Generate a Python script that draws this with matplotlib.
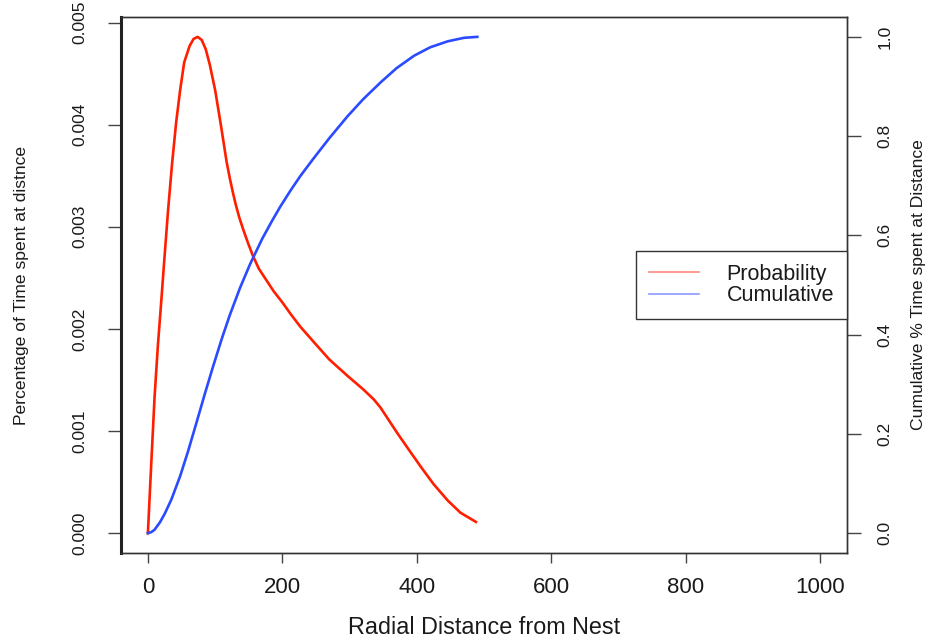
import matplotlib
matplotlib.use("Agg")
import matplotlib.pyplot as plt

plt.rcParams['font.family'] = ['Liberation Sans', 'DejaVu Sans']

# radial distance (m) and share of time spent there
dist_prob = [0, 5, 10, 15, 20, 24, 30, 36, 42, 48, 54, 62, 68, 74, 80, 86,
             92, 100, 108, 113, 117, 122, 127, 131, 136, 142, 149, 156, 165,
             175, 187, 200, 213, 227, 247, 270, 297, 320, 336, 346, 355, 371,
             390, 406, 425, 446, 465, 488]
prob = [0.0, 0.00068, 0.00134, 0.00185, 0.00228, 0.00264, 0.00316, 0.00362,
        0.00402, 0.00434, 0.00461, 0.00477, 0.00484, 0.00486, 0.00483,
        0.00474, 0.00459, 0.00434, 0.00402, 0.00381, 0.00364, 0.00347,
        0.00332, 0.00321, 0.00309, 0.00297, 0.00284, 0.00272, 0.00259,
        0.00249, 0.00237, 0.00226, 0.00214, 0.00202, 0.00187, 0.00170,
        0.00154, 0.00141, 0.00131, 0.00123, 0.00114, 0.00098, 0.00080,
        0.00065, 0.00048, 0.00032, 0.00020, 0.00011]

# cumulative share of time
dist_cum = [0, 5, 10, 18, 25, 35, 48, 60, 73, 85, 97, 110, 122, 137, 152,
            170, 185, 197, 212, 227, 247, 270, 297, 320, 346, 370, 396, 420,
            446, 470, 490]
cum = [0.0, 0.002, 0.007, 0.022, 0.039, 0.068, 0.115, 0.166, 0.226, 0.282,
       0.336, 0.392, 0.440, 0.494, 0.542, 0.593, 0.630, 0.658, 0.690, 0.720,
       0.756, 0.796, 0.840, 0.874, 0.908, 0.937, 0.962, 0.979, 0.991, 0.998,
       1.0]

left_ticks = [0.000, 0.001, 0.002, 0.003, 0.004, 0.005]
right_ticks = [0.0, 0.2, 0.4, 0.6, 0.8, 1.0]
x_ticks = [0, 200, 400, 600, 800, 1000]

txt = '#1a1a1a'
red = '#ff1e00'
blue = '#2a4bff'

fig = plt.figure(figsize=(9.32, 6.4), dpi=100)
ax = fig.add_axes([121 / 932, 1 - 553 / 640, 726 / 932, 536 / 640])
ax2 = ax.twinx()

ax.plot(dist_prob, prob, color=red, lw=1.9, solid_joinstyle='round')
ax2.plot(dist_cum, cum, color=blue, lw=1.9, solid_joinstyle='round')

# R style 4% padding around the data range
pmax = max(prob)
ax.set_ylim(-0.04 * pmax, 1.04 * pmax)
ax2.set_ylim(-0.04, 1.04)
ax.set_xlim(-40, 1040)

ax.set_xticks(x_ticks)
ax.set_xticklabels([str(v) for v in x_ticks])
ax.set_yticks(left_ticks)
ax.set_yticklabels(['%.3f' % v for v in left_ticks], rotation=90, va='center')
ax2.set_yticks(right_ticks)
ax2.set_yticklabels(['%.1f' % v for v in right_ticks], rotation=90, va='center')

ax.tick_params(axis='x', length=7.2, width=1, pad=10, labelsize=16,
               colors='#444444', labelcolor=txt)
ax.tick_params(axis='y', length=9.4, width=1, pad=15, labelsize=12.5,
               colors='#444444', labelcolor=txt)
ax2.tick_params(axis='y', length=10, width=1, pad=12, labelsize=12.5,
                colors='#444444', labelcolor=txt)

for a in (ax, ax2):
    for s in a.spines.values():
        s.set_color('#333333')
        s.set_linewidth(1.0)
ax2.spines['left'].set_linewidth(2.2)
ax2.spines['left'].set_color('#222222')

ax.set_xlabel('Radial Distance from Nest', fontsize=16.8, color=txt, va='center')
ax.xaxis.set_label_coords(0.5, (553 - 627) / 536)
ax.set_ylabel('Percentage of Time spent at distnce', fontsize=12.6, color=txt,
              va='center')
ax.yaxis.set_label_coords((22 - 121) / 726, 0.5)
ax2.set_ylabel('Cumulative % Time spent at Distance', fontsize=12.6, color=txt,
               va='center')
ax2.yaxis.set_label_coords((918 - 121) / 726, 0.5)

# legend with thin light keys, like the base R graphics one
h1, = ax.plot([], [], color='#ff8a80', lw=1.2)
h2, = ax.plot([], [], color='#8a9aff', lw=1.2)
leg = ax2.legend([h1, h2], ['Probability', 'Cumulative'], loc='center right',
                 bbox_to_anchor=(1.0, 0.5), fontsize=15.5, frameon=True,
                 fancybox=False, edgecolor='#333333', framealpha=1,
                 handlelength=2.3, handletextpad=1.3, borderpad=0.6,
                 labelspacing=0.02, borderaxespad=0)
leg.get_frame().set_linewidth(1.0)
for t in leg.get_texts():
    t.set_color(txt)

fig.savefig('out.png', dpi=100)
